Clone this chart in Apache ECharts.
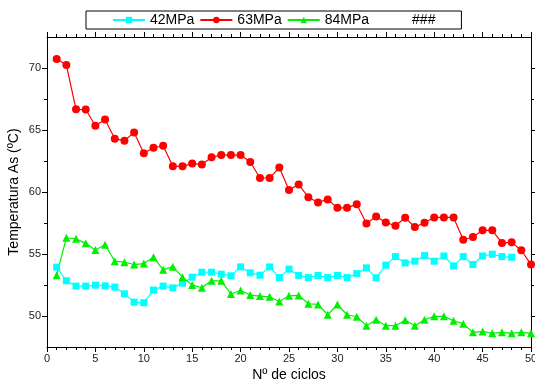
<!DOCTYPE html>
<html><head><meta charset="utf-8">
<script src="https://cdn.jsdelivr.net/npm/echarts@6/dist/echarts.min.js"></script>
<style>html,body{margin:0;padding:0;background:#fff}#c{width:535px;height:386px}</style>
</head><body><div id="c"></div>
<script>
const cycles42 = [1,2,3,4,5,6,7,8,9,10,11,12,13,14,15,16,17,18,19,20,21,22,23,24,25,26,27,28,29,30,31,32,33,34,35,36,37,38,39,40,41,42,43,44,45,46,47,48];
const temp42 = [53.94,52.84,52.41,52.41,52.49,52.43,52.33,51.79,51.12,51.07,52.09,52.41,52.27,52.65,53.13,53.53,53.53,53.37,53.24,53.96,53.48,53.29,53.96,53.10,53.78,53.27,53.10,53.27,53.10,53.27,53.10,53.42,53.88,53.08,54.10,54.79,54.28,54.42,54.87,54.42,54.84,54.04,54.79,54.15,54.84,54.98,54.79,54.74];
const cycles63 = [1,2,3,4,5,6,7,8,9,10,11,12,13,14,15,16,17,18,19,20,21,22,23,24,25,26,27,28,29,30,31,32,33,34,35,36,37,38,39,40,41,42,43,44,45,46,47,48,49,50];
const temp63 = [70.72,70.24,66.67,66.65,65.34,65.85,64.30,64.14,64.80,63.12,63.57,63.73,62.07,62.07,62.29,62.22,62.80,62.98,62.98,62.98,62.42,61.13,61.13,61.97,60.17,60.60,59.58,59.16,59.40,58.72,58.72,59.02,57.46,58.03,57.55,57.28,57.92,57.17,57.52,57.95,57.95,57.95,56.15,56.37,56.91,56.91,55.89,55.94,55.30,54.15];
const cycles84 = cycles63;
const temp84 = [53.29,56.31,56.22,55.86,55.33,55.75,54.42,54.34,54.15,54.23,54.74,53.72,53.98,53.13,52.51,52.28,52.84,52.84,51.77,52.06,51.69,51.61,51.55,51.17,51.63,51.66,50.99,50.93,50.10,50.93,50.10,49.94,49.22,49.70,49.22,49.22,49.65,49.22,49.70,49.97,49.97,49.62,49.38,48.68,48.76,48.60,48.68,48.60,48.68,48.60];
const seriesNames = ['42MPa','63MPa','84MPa','###'];
const yMajor = [50,55,60,65,70];
const yMinor = [52.5,57.5,62.5,67.5];

const zip = (xs, ys) => xs.map((x,i)=>[x, ys[i]]);
const font = 'Liberation Sans, Arial, sans-serif';
const axisLine = {show:true, lineStyle:{color:'#000', width:1}};

function xAx(pos, labels){
  return {type:'value', position:pos, min:0, max:50, interval:5,
    axisLine: axisLine, splitLine:{show:false},
    axisTick:{show:true, length:5, inside:false, lineStyle:{color:'#000'}},
    minorTick:{show:true, splitNumber:5, length:3, lineStyle:{color:'#000'}},
    axisLabel:{show:labels, color:'#222', fontSize:11, fontFamily:font, margin:6},
    name: labels ? 'Nº de ciclos' : '', nameLocation:'middle', nameGap:21, nameMoveOverlap:false,
    nameTextStyle:{fontSize:14, fontFamily:font, color:'#000'}};
}
function yAx(pos, vals, len, labels, name){
  return {type:'value', position:pos, min:47.5, max:72.5,
    axisLine: axisLine, splitLine:{show:false},
    axisTick:{show:true, length:len, customValues:vals, lineStyle:{color:'#000'}},
    axisLabel:{show:labels, customValues:vals, color:'#222', fontSize:11, fontFamily:font, margin:6},
    name: name || '', nameLocation:'middle', nameGap:26, nameMoveOverlap:false,
    nameTextStyle:{fontSize:14, fontFamily:font, color:'#000'}};
}

const chart = echarts.init(document.getElementById('c'), null, {renderer:'canvas'});
chart.setOption({
  animation:false,
  backgroundColor:'#fff',
  grid:{left:47, right:4, top:37, bottom:39, containLabel:false, outerBoundsMode:'none'},
  legend:{
    left:86, top:11, width:380,
    padding:[2,26,2,26], itemGap:5, itemWidth:32, itemHeight:8,
    borderColor:'#000', borderWidth:1,
    textStyle:{fontSize:14, fontFamily:font, color:'#000'},
    data:[
      {name:seriesNames[0]},{name:seriesNames[1]},{name:seriesNames[2]},
      {name:seriesNames[3], itemStyle:{opacity:0}, lineStyle:{opacity:0}}
    ]
  },
  xAxis:[xAx('bottom', true), xAx('top', false)],
  yAxis:[
    yAx('left', yMajor, 5, true, 'Temperatura As (ºC)'),
    yAx('left', yMinor, 3, false),
    yAx('right', yMajor, 5, false),
    yAx('right', yMinor, 3, false)
  ],
  series:[
    {name:seriesNames[0], type:'line', data:zip(cycles42, temp42), symbol:'rect', symbolSize:7,
      lineStyle:{color:'#00ffff', width:1.2}, itemStyle:{color:'#00ffff'}},
    {name:seriesNames[1], type:'line', data:zip(cycles63, temp63), symbol:'circle', symbolSize:8,
      lineStyle:{color:'#ff0000', width:1.2}, itemStyle:{color:'#ff0000'}},
    {name:seriesNames[2], type:'line', data:zip(cycles84, temp84), symbol:'triangle', symbolSize:8,
      lineStyle:{color:'#00f000', width:1.2}, itemStyle:{color:'#00f000'}},
    {name:seriesNames[3], type:'line', data:[], symbol:'none', lineStyle:{opacity:0}, itemStyle:{opacity:0}}
  ]
});
</script></body></html>
